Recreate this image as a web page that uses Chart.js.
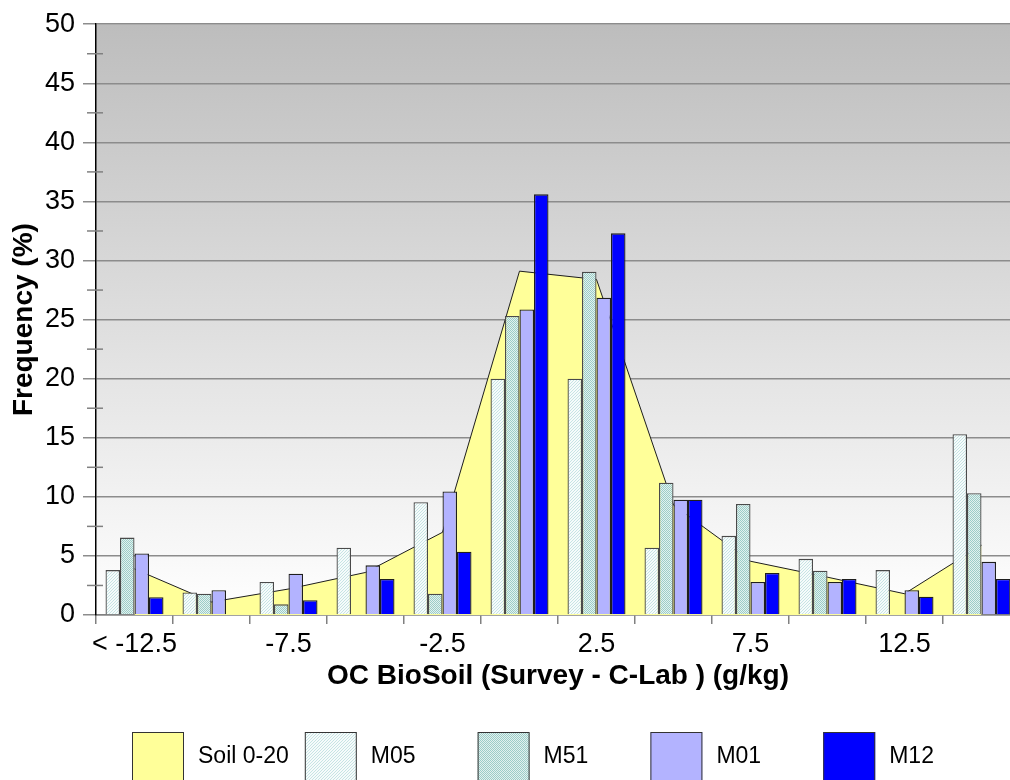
<!DOCTYPE html>
<html>
<head>
<meta charset="utf-8">
<title>OC BioSoil - frequency</title>
<script src="https://cdn.jsdelivr.net/npm/chart.js@4.4.1/dist/chart.umd.min.js"></script>
<style>
    html, body { margin: 0; padding: 0; overflow: hidden; background: #fff; }
</style>
</head>
<body>
<canvas id="chartFreq" width="1020" height="780"></canvas>
<script>
// ── Data ─────────────────────────────────
const categories = ['< -12.5', '-10', '-7.5', '-5', '-2.5', '0', '2.5', '5', '7.5', '10', '12.5', '> 12.5'];
const soil020 = [3.9, 1.1, 2.2, 3.6, 7.0, 29.1, 28.4, 9.3, 4.55, 3.2, 1.8, 5.9];
const m05     = [3.8, 1.9, 2.8, 5.7, 9.55, 20.0, 20.0, 5.7, 6.7, 4.75, 3.8, 15.3];
const m51     = [6.55, 1.8, 0.9, 0, 1.8, 25.3, 29.05, 11.2, 9.4, 3.75, 0, 10.3];
const m01     = [5.2, 2.1, 3.5, 4.2, 10.45, 25.85, 26.85, 9.75, 2.8, 2.8, 2.1, 4.5];
const m12     = [1.5, 0, 1.25, 3.05, 5.35, 35.6, 32.3, 9.75, 3.55, 3.05, 1.55, 3.05];
const yTicks  = [0, 5, 10, 15, 20, 25, 30, 35, 40, 45, 50];

const FONT = "'Liberation Sans', Arial, sans-serif";
const canvas = document.getElementById('chartFreq');
const ctx0 = canvas.getContext('2d');

// ── Fill patterns ────────────────────────
function makePattern(size, draw) {
    const c = document.createElement('canvas');
    c.width = size; c.height = size;
    draw(c.getContext('2d'));
    return ctx0.createPattern(c, 'repeat');
}
const hatchM05 = makePattern(3, function(g) {
    g.fillStyle = '#f6fbfb'; g.fillRect(0, 0, 3, 3);
    g.fillStyle = '#c6e4e4';
    for (let i = 0; i < 3; i++) g.fillRect(i, 2 - i, 1, 1);
});
const dotsM51 = makePattern(2, function(g) {
    g.fillStyle = '#e2f1ef'; g.fillRect(0, 0, 2, 2);
    g.fillStyle = '#9ccdc8';
    g.fillRect(0, 0, 1, 1); g.fillRect(1, 1, 1, 1);
});

// ── Plugins ──────────────────────────────
const plotBackground = {
    id: 'plotBackground',
    beforeDraw(chart) {
        const a = chart.chartArea, ctx = chart.ctx;
        const g = ctx.createLinearGradient(0, a.top, 0, a.bottom);
        g.addColorStop(0, '#bdbdbd');
        g.addColorStop(1, '#ffffff');
        ctx.save();
        ctx.fillStyle = g;
        ctx.fillRect(a.left, a.top, a.right - a.left, a.bottom - a.top);
        ctx.restore();
    }
};

const minorTicks = {
    id: 'minorTicks',
    afterDraw(chart) {
        const y = chart.scales.y, ctx = chart.ctx;
        ctx.save();
        ctx.strokeStyle = '#808080';
        ctx.lineWidth = 1.5;
        for (let i = 0; i < yTicks.length - 1; i++) {
            const py = y.getPixelForValue((yTicks[i] + yTicks[i + 1]) / 2);
            ctx.beginPath();
            ctx.moveTo(y.right - 9, py);
            ctx.lineTo(y.right + 7, py);
            ctx.stroke();
        }
        ctx.restore();
    }
};

const boxLegend = {
    id: 'boxLegend',
    afterDraw(chart) {
        const ctx = chart.ctx;
        ctx.save();
        chart.data.datasets.forEach(function(ds, i) {
            const x = 132 + i * 172.8;
            ctx.fillStyle = ds.backgroundColor;
            ctx.fillRect(x, 732, 52, 52);
            ctx.strokeStyle = '#333';
            ctx.lineWidth = 1;
            ctx.strokeRect(x + 0.5, 732.5, 51, 52);
            ctx.fillStyle = '#000';
            ctx.font = '23px ' + FONT;
            ctx.textBaseline = 'middle';
            ctx.textAlign = 'left';
            ctx.fillText(ds.label, x + 66, 757);
        });
        ctx.restore();
    }
};

// ── Chart ────────────────────────────────
function barSet(label, data, fill, edge) {
    return {
        type: 'bar',
        label: label,
        data: data,
        backgroundColor: fill,
        borderColor: edge,
        borderWidth: 1.3,
        categoryPercentage: 0.753,
        barPercentage: 1.0,
        order: 1
    };
}

new Chart(canvas, {
    type: 'bar',
    data: {
        labels: categories,
        datasets: [
            {
                type: 'line',
                label: 'Soil 0-20',
                data: soil020,
                backgroundColor: '#ffff99',
                borderColor: '#1e1e1e',
                borderWidth: 1,
                pointRadius: 0,
                tension: 0,
                fill: 'origin',
                order: 2
            },
            barSet('M05', m05, hatchM05, '#4a4a4a'),
            barSet('M51', m51, dotsM51, '#4a4a4a'),
            barSet('M01', m01, '#b3b3ff', '#1e1e1e'),
            barSet('M12', m12, '#0000ff', '#1e1e1e')
        ]
    },
    options: {
        responsive: false,
        animation: false,
        layout: { padding: { top: 20, bottom: 85, left: 0, right: 0 } },
        plugins: {
            legend: { display: false },
            tooltip: { enabled: false }
        },
        scales: {
            x: {
                grid: {
                    drawOnChartArea: false,
                    drawTicks: true,
                    tickLength: 9,
                    color: '#808080',
                    lineWidth: 1.5,
                    offset: true
                },
                border: { color: '#808080', width: 1.5 },
                ticks: {
                    autoSkip: false,
                    maxRotation: 0,
                    padding: 4,
                    color: '#000',
                    font: { family: FONT, size: 27 },
                    callback: function(val, i) {
                        return i % 2 === 0 ? this.getLabelForValue(val) : '';
                    }
                },
                title: {
                    display: true,
                    text: 'OC BioSoil (Survey - C-Lab ) (g/kg)',
                    color: '#000',
                    font: { family: FONT, size: 28, weight: 'bold' },
                    padding: { top: 0, bottom: 2 }
                },
                afterFit: function(s) { s.height = 80; }
            },
            y: {
                min: yTicks[0],
                max: yTicks[yTicks.length - 1],
                afterBuildTicks: function(s) { s.ticks = yTicks.map(function(v) { return { value: v }; }); },
                grid: { color: '#8c8c8c', lineWidth: 1.5, tickLength: 13 },
                border: { color: '#000', width: 1.5 },
                ticks: {
                    padding: 8,
                    color: '#000',
                    font: { family: FONT, size: 27 }
                },
                title: {
                    display: true,
                    text: 'Frequency (%)',
                    color: '#000',
                    font: { family: FONT, size: 28, weight: 'bold' },
                    padding: { top: 7, bottom: 0 }
                },
                afterFit: function(s) { s.width = 96; }
            }
        }
    },
    plugins: [plotBackground, minorTicks, boxLegend]
});
</script>
</body>
</html>
